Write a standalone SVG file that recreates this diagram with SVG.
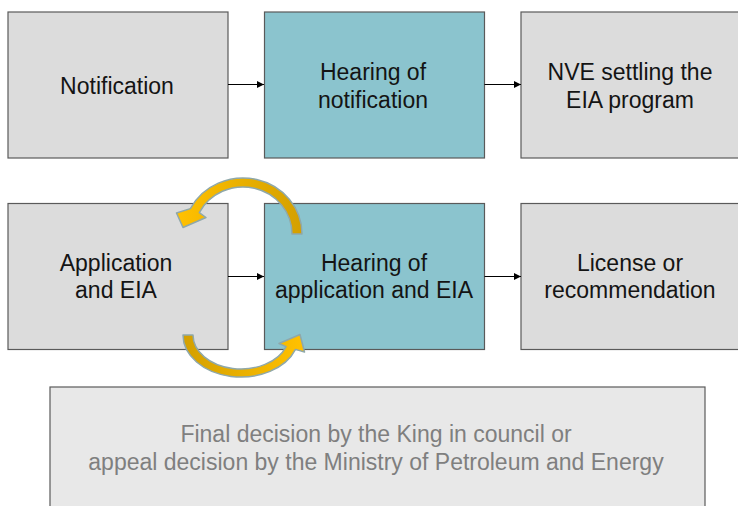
<svg xmlns="http://www.w3.org/2000/svg" width="738" height="506" viewBox="0 0 738 506">
<defs>
<style>
.box{fill:#dcdcdc;stroke:#5a5a5a;stroke-width:1.2}
.hear{fill:#8bc4ce;stroke:#5a5a5a;stroke-width:1.2}
.final{fill:#e8e8e8;stroke:#5a5a5a;stroke-width:1.2}
.t{font-family:"Liberation Sans",Arial,sans-serif;font-size:23px;fill:#141414;text-anchor:middle}
.tf{font-family:"Liberation Sans",Arial,sans-serif;font-size:23px;fill:#7f7f7f;text-anchor:middle}
.conn{stroke:#000;stroke-width:1;fill:none;marker-end:url(#ah)}
.curve{stroke:#8fa8aa;stroke-width:1.5;stroke-linejoin:round}
</style>
<marker id="ah" viewBox="0 0 10 10" refX="10" refY="5" markerWidth="8" markerHeight="7" markerUnits="userSpaceOnUse" orient="auto">
<path d="M0,0 L10,5 L0,10 Z" fill="#000"/>
</marker>
<linearGradient id="gTop" x1="300" y1="230" x2="180" y2="225" gradientUnits="userSpaceOnUse">
<stop offset="0" stop-color="#d4a000"/>
<stop offset="1" stop-color="#ffc000"/>
</linearGradient>
<linearGradient id="gBot" x1="185" y1="335" x2="300" y2="336" gradientUnits="userSpaceOnUse">
<stop offset="0" stop-color="#d4a000"/>
<stop offset="1" stop-color="#ffc000"/>
</linearGradient>
</defs>
<rect width="738" height="506" fill="#ffffff"/>

<g id="notification">
<rect class="box" x="8" y="12" width="220" height="146"/>
<text class="t" x="117" y="94">Notification</text>
</g>
<g id="hearing-notification">
<rect class="hear" x="264.5" y="12" width="220" height="146"/>
<text class="t" x="373" y="80">Hearing of</text>
<text class="t" x="373" y="108">notification</text>
</g>
<g id="nve-settling">
<rect class="box" x="521" y="12" width="220" height="146"/>
<text class="t" x="630" y="80">NVE settling the</text>
<text class="t" x="630" y="108">EIA program</text>
</g>
<g id="application">
<rect class="box" x="8" y="203.5" width="220" height="146"/>
<text class="t" x="116" y="271">Application</text>
<text class="t" x="116" y="298">and EIA</text>
</g>
<g id="hearing-application">
<rect class="hear" x="264.5" y="203.5" width="220" height="146"/>
<text class="t" x="374" y="271">Hearing of</text>
<text class="t" x="374" y="298">application and EIA</text>
</g>
<g id="license">
<rect class="box" x="521" y="203.5" width="220" height="146"/>
<text class="t" x="630" y="271">License or</text>
<text class="t" x="630" y="298">recommendation</text>
</g>
<g id="final-decision">
<rect class="final" x="50" y="387" width="655" height="130"/>
<text class="tf" x="376" y="442">Final decision by the King in council or</text>
<text class="tf" x="376" y="470">appeal decision by the Ministry of Petroleum and Energy</text>
</g>

<g id="connectors">
<line class="conn" x1="228" y1="84.5" x2="264" y2="84.5"/>
<line class="conn" x1="484.5" y1="84.5" x2="521" y2="84.5"/>
<line class="conn" x1="228" y1="276.5" x2="264" y2="276.5"/>
<line class="conn" x1="484.5" y1="276.5" x2="521" y2="276.5"/>
<path class="curve" fill="url(#gTop)" d="M302,234 A59 56 0 0 0 190.4,208.6 L176.5,213 L183,227.5 L206,217.5 L199.3,212.7 A49 47 0 0 1 292,234 Z"/>
<path class="curve" fill="url(#gBot)" d="M183,335 A58 42 0 0 0 295.5,349.4 L304.5,352 L300,334.5 L279,343.5 L286.1,346.6 A48 34 0 0 1 193,335 Z"/>
</g>
</svg>
